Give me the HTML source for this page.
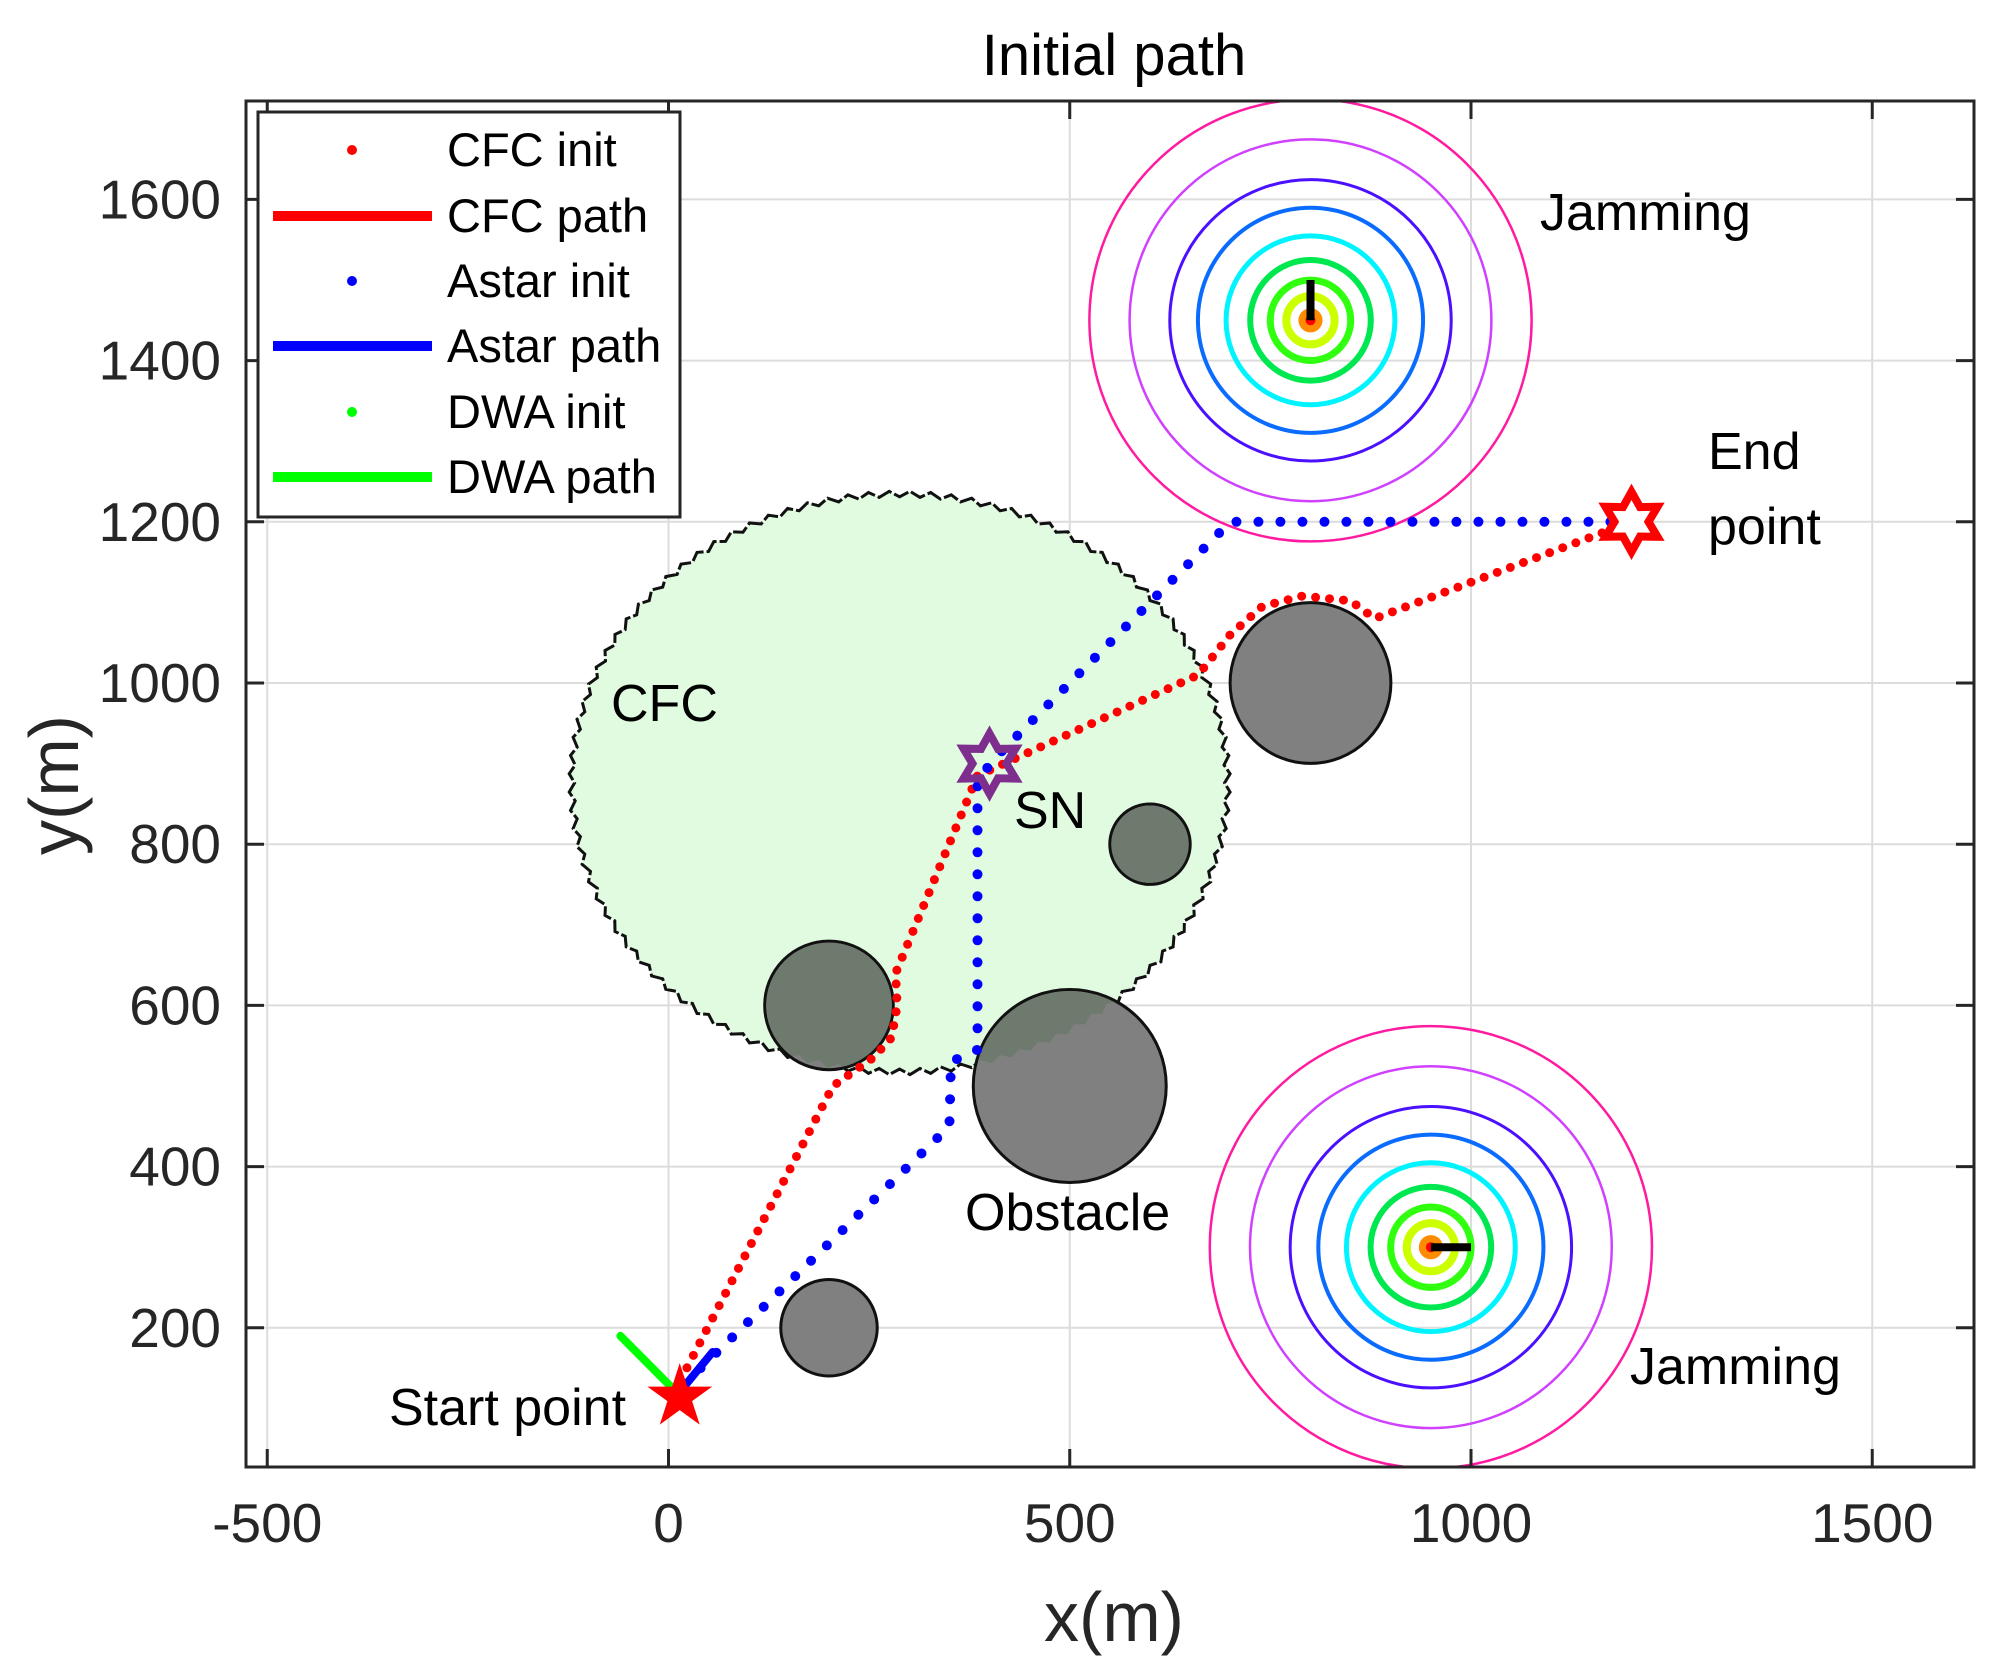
<!DOCTYPE html>
<html><head><meta charset="utf-8"><style>
html,body{margin:0;padding:0;background:#fff}
svg{display:block;font-family:"Liberation Sans",Arial,sans-serif}
</style></head><body>
<svg id="chart" width="2001" height="1666" viewBox="0 0 2001 1666" xmlns="http://www.w3.org/2000/svg">
<defs><clipPath id="plotclip"><rect x="246" y="101" width="1728" height="1366"/></clipPath><clipPath id="cfcclip"><path id="cfcclippath" d=""/></clipPath></defs>
<rect x="246" y="101" width="1728" height="1366" fill="#fff"/>
<g id="grid"></g>
<g id="plot" clip-path="url(#plotclip)"></g>
<rect x="246" y="101" width="1728" height="1366" fill="none" stroke="#262626" stroke-width="3"/>
<g id="ticks"></g>
<text x="1114" y="75" font-size="58" text-anchor="middle" fill="#000">Initial path</text>
<text x="1114" y="1641" font-size="70" text-anchor="middle" fill="#262626">x(m)</text>
<text transform="translate(78,785) rotate(-90)" font-size="70" text-anchor="middle" fill="#262626">y(m)</text>
<g id="legend"></g>
</svg>
<script>
const xTicks=[-500,0,500,1000,1500];
const yTicks=[200,400,600,800,1000,1200,1400,1600];
const jamCenters=[[800,1450],[950,300]];
const jamBarEnds=[[800,1500],[1000,300]];
const jamRadii=[275,225,175,140,105,75,50,30];
const jamColors=['#ff1aa0','#d040ff','#4a10ff','#0a6cff','#00f4ff','#00e850','#30ff10','#ccff00'];
const jamWidths=[2.5,2.5,3,4,5,6,7,8];
const obstacleX=[800,600,200,500,200];
const obstacleY=[1000,800,600,500,200];
const obstacleR=[100,50,80,120,60];
const cfcCenter=[288,876];
const cfcRadiusX=408;
const cfcRadiusY=358;
const cfcInitX=[15,205,255,278,285,283,385,660,700,740,790,850,880,1200];
const cfcInitY=[135,500,535,560,600,640,885,1010,1060,1095,1108,1102,1080,1200];
const astarInitX=[40,350,352,385,385,410,700,1195];
const astarInitY=[150,450,530,545,880,910,1200,1200];
const astarPathX=[12,55];
const astarPathY=[118,170];
const dwaPathX=[10,-60];
const dwaPathY=[120,190];
const startPt=[14,114];
const endPt=[1200,1200];
const snPt=[400,900];

const NS='http://www.w3.org/2000/svg';
const X=v=>668.5+0.8025*v;
const Y=v=>1489-0.806*v;
const S=u=>0.804*u;
function mk(tag,attrs,parent){const e=document.createElementNS(NS,tag);for(const k in attrs)e.setAttribute(k,attrs[k]);parent.appendChild(e);return e;}
const grid=document.getElementById('grid'),plot=document.getElementById('plot'),ticks=document.getElementById('ticks'),legend=document.getElementById('legend');

xTicks.forEach(t=>{
 const g=mk('line',{x1:X(t),x2:X(t),y1:101,y2:1467,stroke:'#dcdcdc','stroke-width':2},grid);
 
 
 mk('line',{x1:X(t),x2:X(t),y1:1467,y2:1449,stroke:'#262626','stroke-width':3},ticks);
 mk('line',{x1:X(t),x2:X(t),y1:101,y2:119,stroke:'#262626','stroke-width':3},ticks);
 const l=mk('text',{x:X(t),y:1542,'font-size':55,'text-anchor':'middle',fill:'#262626'},ticks);
 l.textContent=t;
 
 
});
yTicks.forEach(t=>{
 const g=mk('line',{x1:246,x2:1974,y1:Y(t),y2:Y(t),stroke:'#dcdcdc','stroke-width':2},grid);
 
 
 mk('line',{x1:246,x2:264,y1:Y(t),y2:Y(t),stroke:'#262626','stroke-width':3},ticks);
 mk('line',{x1:1974,x2:1956,y1:Y(t),y2:Y(t),stroke:'#262626','stroke-width':3},ticks);
 const l=mk('text',{x:221,y:Y(t)+19,'font-size':55,'text-anchor':'end',fill:'#262626'},ticks);
 l.textContent=t;
 
 
});

jamCenters.forEach((c,j)=>{
 jamRadii.forEach((r,i)=>{
  const e=mk('circle',{cx:X(c[0]),cy:Y(c[1]),r:S(r),fill:'none',stroke:jamColors[i],'stroke-width':jamWidths[i]},plot);
  
  
 });
 const o=mk('circle',{cx:X(c[0]),cy:Y(c[1]),r:S(15),fill:'#ff8c00'},plot);
 
 
 mk('circle',{cx:X(c[0]),cy:Y(c[1]),r:5,fill:'#ff0000'},plot);
 const b=mk('line',{x1:X(c[0]),y1:Y(c[1]),x2:X(jamBarEnds[j][0]),y2:Y(jamBarEnds[j][1]),stroke:'#000','stroke-width':8},plot);
 
 
});

let d='';
const N=200;
for(let i=0;i<=N;i++){const a=2*Math.PI*i/N;const k=((i%2)?4:-3);d+=(i?'L':'M')+X(cfcCenter[0]+(cfcRadiusX+k)*Math.cos(a)).toFixed(1)+','+Y(cfcCenter[1]+(cfcRadiusY+k)*Math.sin(a)).toFixed(1);}
d+='Z';
document.getElementById('cfcclippath').setAttribute('d',d);
const cfc=mk('path',{d:d,fill:'#e1fbe1',stroke:'#111','stroke-width':3,'stroke-dasharray':'16 3'},plot);



obstacleX.forEach((ox,i)=>{
 const c=mk('circle',{cx:X(ox),cy:Y(obstacleY[i]),r:S(obstacleR[i]),fill:'#808080',stroke:'#111','stroke-width':3},plot);
 
 
 mk('circle',{cx:X(ox),cy:Y(obstacleY[i]),r:S(obstacleR[i])-1.5,fill:'#6f7a6f','clip-path':'url(#cfcclip)'},plot);
});

function poly(xs,ys){return xs.map((x,i)=>X(x).toFixed(1)+','+Y(ys[i]).toFixed(1)).join(' ');}
const cfcLine=mk('polyline',{points:poly(cfcInitX,cfcInitY),fill:'none',stroke:'#ff0000','stroke-width':9,'stroke-linecap':'round','stroke-dasharray':'0 14'},plot);


const aLine=mk('polyline',{points:poly(astarInitX,astarInitY),fill:'none',stroke:'#0000ff','stroke-width':10,'stroke-linecap':'round','stroke-dasharray':'0 22'},plot);


const dw=mk('polyline',{points:poly(dwaPathX,dwaPathY),fill:'none',stroke:'#00ff00','stroke-width':8,'stroke-linecap':'round'},plot);


const ap=mk('polyline',{points:poly(astarPathX,astarPathY),fill:'none',stroke:'#0000ff','stroke-width':8,'stroke-linecap':'round'},plot);



function starPts(cx,cy,ro,ri,n){let p=[];for(let i=0;i<2*n;i++){const a=-Math.PI/2+Math.PI*i/n;const r=i%2?ri:ro;p.push((cx+r*Math.cos(a)).toFixed(1)+','+(cy+r*Math.sin(a)).toFixed(1));}return p.join(' ');}
const st=mk('polygon',{points:starPts(X(startPt[0]),Y(startPt[1]),34,13,5),fill:'#ff0000'},plot);


const en=mk('polygon',{points:starPts(X(endPt[0]),Y(endPt[1]),30,17,6),fill:'#fff',stroke:'#ff0000','stroke-width':8},plot);


const sn=mk('polygon',{points:starPts(X(snPt[0]),Y(snPt[1]),30,17,6),fill:'none',stroke:'#7e2f8e','stroke-width':8},plot);



[['Jamming',1540,230,'jamming-label-top'],['Jamming',1630,1384,'jamming-label-bottom'],['End',1708,469,'end-label'],['point',1708,544,'end-point-label'],['CFC',611,721,'cfc-label'],['SN',1014,828,'sn-label'],['Obstacle',965,1230,'obstacle-label'],['Start point',389,1425,'start-point-label']].forEach(a=>{
 const t=mk('text',{x:a[1],y:a[2],'font-size':52,fill:'#000'},plot);
 t.textContent=a[0];
 
 
});

const lb=mk('rect',{x:258,y:112,width:422,height:405,fill:'#fff',stroke:'#262626','stroke-width':3},legend);


const legNames=['CFC init','CFC path','Astar init','Astar path','DWA init','DWA path'];
const legColors=['#ff0000','#ff0000','#0000ff','#0000ff','#00ff00','#00ff00'];
const legYs=[150,216,281,346,412,477];
legNames.forEach((n,i)=>{
 const g=mk('g',{},legend);
 
 
 if(i%2===0) mk('circle',{cx:352,cy:legYs[i],r:5,fill:legColors[i]},g);
 else mk('line',{x1:273,x2:432,y1:legYs[i],y2:legYs[i],stroke:legColors[i],'stroke-width':10},g);
 const t=mk('text',{x:447,y:legYs[i]+16,'font-size':47,fill:'#000'},g);
 t.textContent=n;
});
</script>
</body></html>
